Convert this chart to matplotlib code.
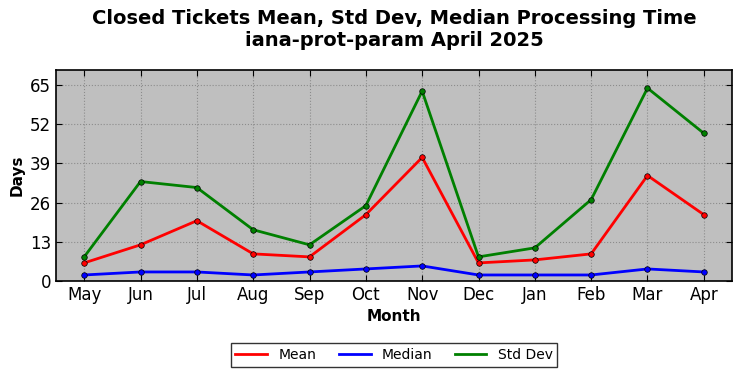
import numpy as np
import matplotlib.pyplot as plt
from matplotlib.lines import Line2D

months = ['May', 'Jun', 'Jul', 'Aug', 'Sep', 'Oct', 'Nov', 'Dec', 'Jan', 'Feb', 'Mar', 'Apr']
mean = [6, 12, 20, 9, 8, 22, 41, 6, 7, 9, 35, 22]
median = [2, 3, 3, 2, 3, 4, 5, 2, 2, 2, 4, 3]
std = [8, 33, 31, 17, 12, 25, 63, 8, 11, 27, 64, 49]
yticks = [0, 13, 26, 39, 52, 65]

fig = plt.figure(figsize=(7.42, 3.78), dpi=100)
ax = fig.add_axes([56/742, 1 - 281/378, 676/742, 211/378])
ax.set_facecolor('#bfbfbf')

x = np.arange(len(months))
ax.plot(x, mean, color='red', lw=2, marker='o', ms=4, mec='black', mew=0.5)
ax.plot(x, median, color='blue', lw=2, marker='o', ms=4, mec='black', mew=0.5)
ax.plot(x, std, color='green', lw=2, marker='o', ms=4, mec='black', mew=0.5)

ax.set_xlim(-0.5, len(months) - 0.5)
ax.set_ylim(0, 70)
ax.set_xticks(x)
ax.set_xticklabels(months, fontsize=12)
ax.set_yticks(yticks)
ax.tick_params(axis='y', labelsize=12)
ax.tick_params(direction='in', top=True, right=True, length=4)
ax.grid(True, linestyle=':', color='#8c8c8c', lw=0.8)
for s in ax.spines.values():
    s.set_linewidth(1.2)

ax.set_xlabel('Month', fontsize=11, fontweight='bold')
ax.set_ylabel('Days', fontsize=11, fontweight='bold')
ax.set_title('Closed Tickets Mean, Std Dev, Median Processing Time\niana-prot-param April 2025',
             fontsize=14, fontweight='bold', pad=17)

handles = [Line2D([], [], color='red', lw=2),
           Line2D([], [], color='blue', lw=2),
           Line2D([], [], color='green', lw=2)]
leg = ax.legend(handles, ['Mean', 'Median', 'Std Dev'], loc='upper center',
                bbox_to_anchor=(0.5, -0.262), ncol=3, fontsize=10, frameon=True,
                fancybox=False, edgecolor='black', columnspacing=1.6, handlelength=2.3,
                borderpad=0.35)
leg.get_frame().set_linewidth(1.0)

fig.savefig('out.png', dpi=100)
